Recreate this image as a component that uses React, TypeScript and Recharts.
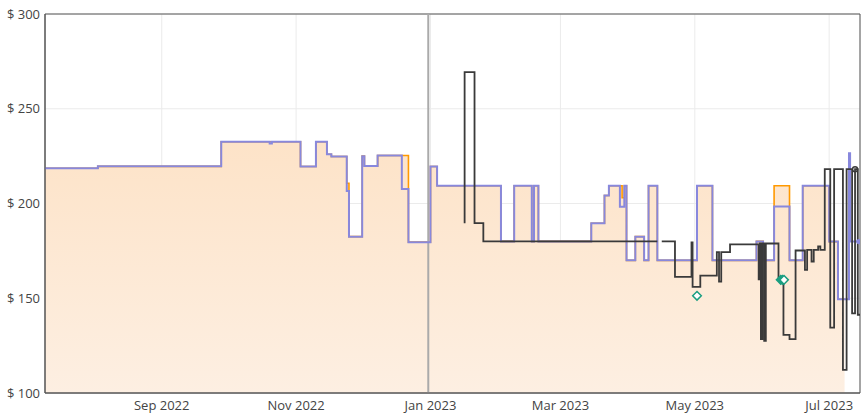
import {
  ComposedChart,
  Area,
  Line,
  Scatter,
  XAxis,
  YAxis,
  CartesianGrid,
  ReferenceLine,
  ReferenceArea,
} from "recharts";

type Pt = [string, number | null];

// Amazon price (orange, filled)
const amazonPrices: Pt[] = [
  ["2022-07-10", 218.6],
  ["2022-08-03", 219.6],
  ["2022-09-28", 232.6],
  ["2022-11-03", 219.5],
  ["2022-11-10", 232.6],
  ["2022-11-15", 226],
  ["2022-11-17", 224.8],
  ["2022-11-24", 210.7],
  ["2022-11-25", 182.5],
  ["2022-12-01", 225],
  ["2022-12-02", 219.8],
  ["2022-12-08", 225.3],
  ["2022-12-22", 179.6],
  ["2023-01-01", 219.5],
  ["2023-01-04", 209.4],
  ["2023-02-02", 180],
  ["2023-02-08", 209.4],
  ["2023-02-16", 180],
  ["2023-02-17", 209.4],
  ["2023-02-19", 180],
  ["2023-03-15", 189.6],
  ["2023-03-21", 204.2],
  ["2023-03-23", 209.4],
  ["2023-03-29", 203],
  ["2023-03-30", 209.4],
  ["2023-03-31", 170],
  ["2023-04-04", 182.5],
  ["2023-04-08", 170],
  ["2023-04-10", 209.4],
  ["2023-04-14", 170],
  ["2023-05-02", 209.4],
  ["2023-05-09", 170],
  ["2023-05-29", 180],
  ["2023-06-01", 170],
  ["2023-06-06", 209.4],
  ["2023-06-13", 170],
  ["2023-06-19", 209.4],
  ["2023-07-01", 179.9],
  ["2023-07-05", 149.5],
  ["2023-07-08", 149.5],
];

// New price (purple line)
const newPrices: Pt[] = [
  ["2022-07-10", 218.6],
  ["2022-08-03", 219.6],
  ["2022-09-28", 232.6],
  ["2022-10-20", 231.6],
  ["2022-10-21", 232.6],
  ["2022-11-03", 219.5],
  ["2022-11-10", 232.6],
  ["2022-11-15", 226],
  ["2022-11-17", 224.8],
  ["2022-11-24", 206.6],
  ["2022-11-25", 182.5],
  ["2022-12-01", 225],
  ["2022-12-02", 219.8],
  ["2022-12-08", 225.3],
  ["2022-12-19", 207.7],
  ["2022-12-22", 179.6],
  ["2023-01-01", 219.5],
  ["2023-01-04", 209.4],
  ["2023-02-02", 180],
  ["2023-02-08", 209.4],
  ["2023-02-16", 180],
  ["2023-02-17", 209.4],
  ["2023-02-19", 180],
  ["2023-03-15", 189.6],
  ["2023-03-21", 204.2],
  ["2023-03-23", 209.4],
  ["2023-03-28", 198.3],
  ["2023-03-30", 209.4],
  ["2023-03-31", 170],
  ["2023-04-04", 182.5],
  ["2023-04-08", 170],
  ["2023-04-10", 209.4],
  ["2023-04-14", 170],
  ["2023-05-02", 209.4],
  ["2023-05-09", 170],
  ["2023-05-29", 180],
  ["2023-06-01", 170],
  ["2023-06-06", 198.4],
  ["2023-06-13", 170],
  ["2023-06-19", 209.4],
  ["2023-07-01", 179.9],
  ["2023-07-05", 149.5],
  ["2023-07-10", 226.5],
  ["2023-07-10T12:00", 179.9],
  ["2023-07-15", 179.9],
];

// Used price (dark line)
const usedPrices: Pt[] = [
  ["2023-01-16T12:00", 189.6],
  ["2023-01-16T12:00", 269.3],
  ["2023-01-21", 189.6],
  ["2023-01-25", 180],
  ["2023-04-14", 180],
  ["2023-04-15", null],
  ["2023-04-16", 180],
  ["2023-04-22", 161.3],
  ["2023-04-29T12:00", 179.5],
  ["2023-04-30", 156],
  ["2023-05-03T12:00", 161.9],
  ["2023-05-11", 174.3],
  ["2023-05-12", 158.8],
  ["2023-05-13", 174.3],
  ["2023-05-17", 178.4],
  ["2023-05-30", 160],
  ["2023-05-30T12:00", 178.9],
  ["2023-05-31", 128.4],
  ["2023-05-31T16:00", 178.9],
  ["2023-06-01T12:00", 127.5],
  ["2023-06-02T06:00", 178.9],
  ["2023-06-08", 160],
  ["2023-06-10T06:00", 130.7],
  ["2023-06-13", 128.4],
  ["2023-06-15T18:00", 175.2],
  ["2023-06-20", 165],
  ["2023-06-21", 175.5],
  ["2023-06-23", 169.4],
  ["2023-06-24", 175.5],
  ["2023-06-26", 177.3],
  ["2023-06-27", 175.5],
  ["2023-06-29", 218.1],
  ["2023-07-01T12:00", 134.5],
  ["2023-07-03T06:00", 218.1],
  ["2023-07-07T06:00", 112.2],
  ["2023-07-08T22:00", 218.1],
  ["2023-07-11T10:00", 142],
  ["2023-07-12T18:00", 218.1],
  ["2023-07-14", 141.3],
  ["2023-07-15", 141.3],
];

const dealsHollow: Pt[] = [
  ["2023-05-02", 151.3],
  ["2023-06-10T12:00", 159.7],
];
const dealsFilled: Pt[] = [
  ["2023-06-09", 159.7],
  ["2023-06-09T18:00", 159.7],
];
const usedLast: Pt[] = [["2023-07-12T18:00", 218.1]];
const newLast: Pt[] = [["2023-07-14T12:00", 179.9]];

const xTickDates = ["2022-09-01", "2022-11-01", "2023-01-01", "2023-03-01", "2023-05-01", "2023-07-01"];
const yTicks = [100, 150, 200, 250, 300];
const xDomainDates = ["2022-07-10", "2023-07-15"];
const markerDate = "2022-12-31";

const MONTHS = ["Jan", "Feb", "Mar", "Apr", "May", "Jun", "Jul", "Aug", "Sep", "Oct", "Nov", "Dec"];

const ts = (s: string) => Date.parse((s.length === 10 ? s + "T00:00" : s) + "Z");
const toRows = (pts: Pt[]) => pts.map(([d, v]) => ({ t: ts(d), v }));

const fmtDate = (t: number) => {
  const d = new Date(t);
  return `${MONTHS[d.getUTCMonth()]} ${d.getUTCFullYear()}`;
};

const Diamond = (fill: string) => (props: any) => {
  const { cx, cy } = props;
  const r = 4.3;
  return (
    <polygon
      points={`${cx},${cy - r} ${cx + r},${cy} ${cx},${cy + r} ${cx - r},${cy}`}
      fill={fill}
      stroke="#1b9e80"
      strokeWidth={1.5}
    />
  );
};

const Dot = (stroke: string, fill: string, r: number) => (props: any) => (
  <circle cx={props.cx} cy={props.cy} r={r} stroke={stroke} strokeWidth={1.5} fill={fill} />
);

const App = () => {
  const domain = [ts(xDomainDates[0]), ts(xDomainDates[1])];
  const tickStyle = { fill: "#444", fontSize: 13, fontFamily: "Open Sans" };
  return (
    <div style={{ position: "absolute", left: 0, top: 0, width: 865, height: 415, background: "#fff" }}>
      <ComposedChart width={865} height={415} margin={{ top: 14, right: 5, left: 0, bottom: 0 }}>
        <defs>
          <linearGradient id="amzFill" x1="0" y1="0" x2="0" y2="1">
            <stop offset="0%" stopColor="#fde3c8" />
            <stop offset="100%" stopColor="#fdefe2" />
          </linearGradient>
        </defs>
        <CartesianGrid stroke="#ebebeb" />
        <XAxis
          dataKey="t"
          type="number"
          domain={domain}
          ticks={xTickDates.map(ts)}
          tickFormatter={fmtDate}
          allowDataOverflow
          height={22}
          tick={tickStyle}
          tickLine={false}
          tickSize={6}
          tickMargin={2}
          axisLine={{ stroke: "#555" }}
        />
        <YAxis
          type="number"
          domain={[100, 300]}
          ticks={yTicks}
          tickFormatter={(v: number) => `$ ${v}`}
          allowDataOverflow
          width={45}
          tick={tickStyle}
          tickLine={false}
          tickSize={3}
          tickMargin={2}
          axisLine={{ stroke: "#555" }}
        />
        <Area
          data={toRows(amazonPrices)}
          dataKey="v"
          type="stepAfter"
          stroke="#ff9900"
          strokeWidth={1.6}
          fill="url(#amzFill)"
          fillOpacity={1}
          baseValue={100}
          dot={false}
          activeDot={false}
          isAnimationActive={false}
        />
        <ReferenceLine x={ts(markerDate)} stroke="#aaaaaa" strokeWidth={2} />
        <Line
          data={toRows(newPrices)}
          dataKey="v"
          type="stepAfter"
          stroke="#8888dd"
          strokeWidth={2}
          dot={false}
          activeDot={false}
          isAnimationActive={false}
        />
        <Line
          data={toRows(usedPrices)}
          dataKey="v"
          type="stepAfter"
          stroke="#3a3a3a"
          strokeWidth={1.8}
          dot={false}
          activeDot={false}
          connectNulls={false}
          isAnimationActive={false}
        />
        <Scatter data={toRows(dealsFilled)} dataKey="v" shape={Diamond("#1b9e80")} isAnimationActive={false} />
        <Scatter data={toRows(dealsHollow)} dataKey="v" shape={Diamond("#ffffff")} isAnimationActive={false} />
        <Scatter data={toRows(usedLast)} dataKey="v" shape={Dot("#3a3a3a", "none", 2.5)} isAnimationActive={false} />
        <Scatter data={toRows(newLast)} dataKey="v" shape={Dot("#8888dd", "#8888dd", 1.8)} isAnimationActive={false} />
        <ReferenceArea
          x1={domain[0]}
          x2={domain[1]}
          y1={100}
          y2={300}
          fill="none"
          stroke="#555"
          strokeWidth={1}
        />
      </ComposedChart>
    </div>
  );
};

export default App;
